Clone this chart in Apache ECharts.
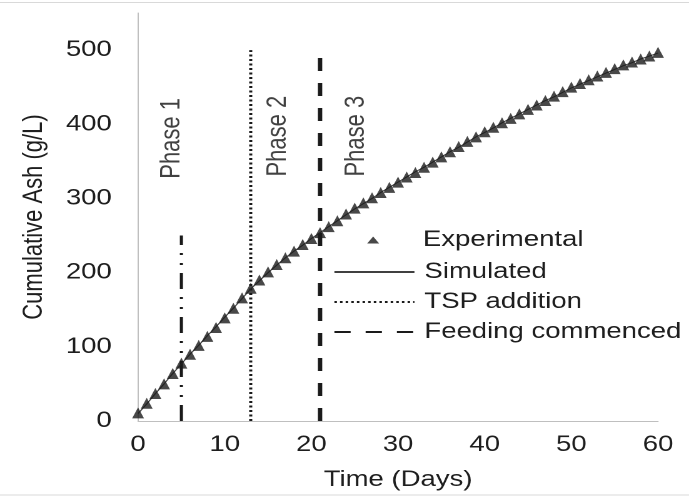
<!DOCTYPE html>
<html>
<head>
<meta charset="utf-8">
<script src="https://cdn.jsdelivr.net/npm/echarts@6/dist/echarts.min.js"></script>
<style>
html,body{margin:0;padding:0;background:#fff;overflow:hidden;}
#wrap{width:689px;height:497px;overflow:hidden;}
#chart{width:551px;height:497px;transform:scaleX(1.2505);transform-origin:0 0;}
</style>
</head>
<body>
<div id="wrap"><div id="chart"></div></div>
<script>
// ---- data ----
const days = [0,1,2,3,4,5,6,7,8,9,10,11,12,13,14,15,16,17,18,19,20,21,22,23,24,25,26,27,28,29,30,31,32,33,34,35,36,37,38,39,40,41,42,43,44,45,46,47,48,49,50,51,52,53,54,55,56,57,58,59,60];
const experimental = [11,24,37,50,64,78,90,102,114,126,139,152,166,179,190,201,211,220,229,238,246,254,262,270,279,287,294,301,308,315,322,329,335,342,349,356,363,370,377,383,390,396,402,408,414,420,426,432,438,444,450,455,460,465,470,475,480,484,488,492,497];
const simulated = [10,23,37,50,64,77,90,102,115,127,140,152,165,178,189,200,210,220,229,237,246,254,262,270,278,286,293,300,308,315,322,329,336,342,349,356,363,369,376,383,389,395,402,408,414,420,426,432,437,443,449,454,459,464,469,474,479,483,488,492,496];
const phase1Line = [[5,0],[5,250]];
const tspLine = [[13,0],[13,500]];
const feedingLine = [[21,0],[21,500]];
const phaseNames = ['Phase 1','Phase 2','Phase 3'];
const phaseLabelDays = [3.9,16.2,25.2];
const phaseLabelValues = [381,384,384];
const xTicks = [0,10,20,30,40,50,60];
const yTicks = [0,100,200,300,400,500];
const legendNames = ['Experimental','Simulated','TSP addition','Feeding commenced'];

const txt = '#1e1e1e';
const font = 'Liberation Sans, Arial, sans-serif';
const noDot = {color:'rgba(0,0,0,0)', borderWidth:0, opacity:0};

const chart = echarts.init(document.getElementById('chart'), null, {renderer:'canvas', devicePixelRatio:2});
const option = {
  animation:false,
  backgroundColor:'#ffffff',
  grid:{left:110.4, right:24.8, top:13, bottom:76},
  graphic:[
    {type:'line', shape:{x1:0,y1:2.5,x2:551,y2:2.5}, style:{stroke:'#d9d9d9',lineWidth:1}},
    {type:'line', shape:{x1:0,y1:495,x2:551,y2:495}, style:{stroke:'#d9d9d9',lineWidth:1}}
  ],
  xAxis:{
    type:'value', min:xTicks[0], max:xTicks[xTicks.length-1], interval:10,
    name:'Time (Days)', nameLocation:'middle', nameGap:48,
    nameTextStyle:{fontFamily:font,fontSize:22,color:txt},
    axisLine:{show:true,onZero:false,lineStyle:{color:'#bfbfbf',width:1}},
    axisTick:{show:false}, splitLine:{show:false},
    axisLabel:{fontFamily:font,fontSize:22,color:txt,margin:13}
  },
  yAxis:{
    type:'value', min:0, max:550, interval:100,
    name:'Cumulative Ash (g/L)', nameLocation:'middle', nameGap:72, nameRotate:90,
    nameTextStyle:{fontFamily:font,fontSize:22,color:txt},
    axisLine:{show:true,lineStyle:{color:'#bfbfbf',width:1}},
    axisTick:{show:false}, splitLine:{show:false},
    axisLabel:{fontFamily:font,fontSize:22,color:txt,margin:21,
      formatter:function(v){return yTicks.indexOf(v)>=0?String(v):'';}}
  },
  legend:[
    {
      data:[{name:legendNames[0], icon:'triangle'}], orient:'vertical', left:288.6, top:224,
      itemWidth:9.6, itemHeight:7,
      textStyle:{fontFamily:font,fontSize:22,color:txt,lineHeight:22,padding:[0,0,0,30]},
      selectedMode:false
    },
    {
      data:legendNames.slice(1).map(n=>({name:n, itemStyle:noDot})),
      orient:'vertical', left:261.4, top:256,
      itemWidth:64, itemHeight:8, itemGap:8,
      textStyle:{fontFamily:font,fontSize:22,color:txt,lineHeight:22,padding:[0,0,0,3]},
      selectedMode:false
    }
  ],
  series:[
    {name:'phase1', type:'line', data:phase1Line, symbol:'none', silent:true, z:2,
      lineStyle:{color:'#1a1a1a',width:2.5,type:[16,8,2,8,2,8]}},
    {name:'TSP addition', type:'line', data:tspLine, symbol:'none', silent:true, z:2,
      itemStyle:{color:'#1a1a1a'},
      lineStyle:{color:'#1a1a1a',width:2.5,type:[2,2.5]}},
    {name:'Feeding commenced', type:'line', data:feedingLine, symbol:'none', silent:true, z:2,
      itemStyle:{color:'#1a1a1a'},
      lineStyle:{color:'#1a1a1a',width:3.5,type:[13,12]}},
    {name:'Simulated', type:'line', data:days.map((d,i)=>[d,simulated[i]]), symbol:'none', z:3,
      itemStyle:{color:'#1a1a1a'},
      lineStyle:{color:'#404040',width:1}},
    {name:'Experimental', type:'scatter', data:days.map((d,i)=>[d,experimental[i]]),
      symbol:'triangle', symbolSize:[9.5,11], z:4, itemStyle:{color:'#1a1a1a'}},
    {name:'phaseLabels', type:'scatter', symbolSize:0, silent:true, z:5,
      data:phaseNames.map((n,i)=>({name:n,value:[phaseLabelDays[i],phaseLabelValues[i]]})),
      label:{show:true, position:'inside', rotate:90, formatter:'{b}',
        fontFamily:font, fontSize:22, color:'#111111'}}
  ]
};
chart.setOption(option);
</script>
</body>
</html>
